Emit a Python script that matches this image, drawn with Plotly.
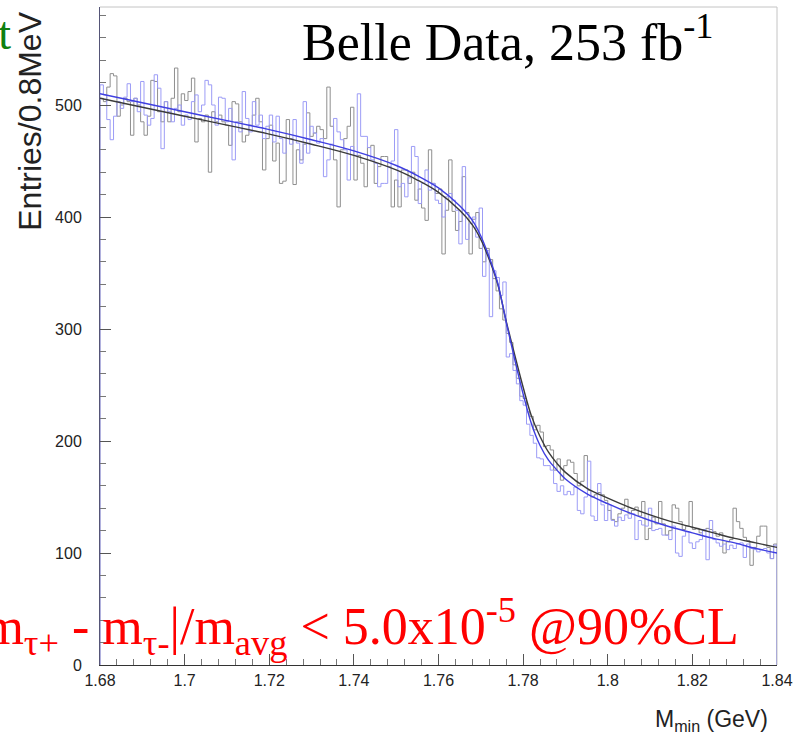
import plotly.graph_objects as go

# ---- data -------------------------------------------------------------
bin_lo = 1.68
bin_w = 0.0008
n_bins = 200

gray_counts = [
    506, 503, 516, 528, 526, 490, 500, 506, 503, 473,
    506, 500, 485, 473, 490, 522, 521, 494, 485, 503,
    485, 506, 533, 494, 510, 504, 512, 524, 467, 488,
    485, 491, 440, 494, 485, 491, 485, 482, 464, 503,
    501, 485, 467, 473, 482, 491, 506, 485, 442, 470,
    482, 450, 466, 430, 432, 487, 470, 429, 460, 451,
    465, 493, 472, 475, 481, 478, 470, 516, 481, 451,
    409, 460, 470, 481, 498, 433, 455, 448, 427, 462,
    464, 430, 445, 454, 454, 445, 409, 433, 409, 442,
    442, 430, 440, 415, 425, 408, 397, 460, 430, 421,
    425, 367, 406, 451, 405, 388, 396, 436, 404, 367,
    398, 404, 372, 360, 372, 362, 345, 334, 318, 308,
    296, 288, 268, 256, 240, 238, 226, 222, 210, 214,
    208, 195, 196, 192, 174, 184, 165, 178, 183, 181,
    171, 160, 164, 187, 156, 150, 152, 154, 152, 147,
    138, 130, 128, 135, 140, 148, 135, 138, 141, 133,
    146, 112, 122, 132, 126, 146, 126, 116, 120, 143,
    140, 128, 121, 124, 146, 121, 122, 118, 120, 122,
    121, 119, 115, 118, 100, 110, 112, 140, 128, 122,
    114, 111, 89, 105, 115, 124, 124, 105, 95, 108,
]

blue_counts = [
    518, 509, 487, 469, 490, 503, 497, 507, 519, 503,
    506, 494, 521, 491, 482, 488, 527, 515, 461, 503,
    494, 485, 497, 500, 482, 491, 487, 503, 509, 494,
    500, 522, 518, 500, 482, 507, 506, 485, 497, 451,
    485, 476, 512, 488, 476, 503, 482, 491, 470, 481,
    491, 467, 490, 470, 457, 470, 465, 487, 466, 448,
    503, 457, 481, 475, 466, 470, 436, 451, 465, 488,
    476, 469, 460, 433, 463, 455, 510, 472, 472, 462,
    451, 448, 427, 430, 430, 445, 450, 478, 427, 430,
    418, 435, 463, 454, 412, 430, 442, 424, 430, 415,
    412, 400, 418, 421, 415, 406, 376, 445, 380, 394,
    400, 382, 408, 347, 370, 311, 352, 346, 330, 342,
    275, 278, 263, 251, 236, 232, 215, 205, 198, 185,
    184, 178, 178, 174, 162, 155, 160, 152, 155, 152,
    159, 138, 135, 150, 182, 133, 129, 162, 143, 129,
    143, 129, 124, 132, 129, 134, 131, 135, 112, 129,
    125, 124, 140, 120, 121, 122, 116, 116, 112, 124,
    100, 97, 115, 119, 109, 104, 110, 112, 121, 94,
    129, 112, 109, 106, 108, 103, 107, 104, 108, 109,
    96, 108, 104, 103, 101, 103, 104, 100, 95, 107,
]

fit_x = [1.680, 1.690, 1.700, 1.710, 1.720, 1.730, 1.740, 1.750, 1.755, 1.760,
         1.765, 1.768, 1.770, 1.772, 1.774, 1.776, 1.778, 1.780, 1.782, 1.784,
         1.786, 1.788, 1.790, 1.795, 1.800, 1.805, 1.810, 1.815, 1.820, 1.825,
         1.830, 1.835, 1.840]
fit_black = [506, 498, 490, 482, 474, 465, 455, 442, 433, 422,
             406, 393, 380, 362, 340, 307, 277, 248, 222, 204,
             190, 180, 172, 158, 149, 141, 134, 128, 123, 118,
             113, 109, 105]
fit_blue = [510, 502, 494, 486, 478, 469, 459, 446, 437, 426,
            410, 397, 383, 364, 341, 306, 273, 242, 215, 196,
            183, 174, 166, 153, 144, 136, 129, 123, 118, 113,
            109, 104, 100]

x_tick_vals = [1.68, 1.70, 1.72, 1.74, 1.76, 1.78, 1.80, 1.82, 1.84]
x_tick_text = ["1.68", "1.7", "1.72", "1.74", "1.76", "1.78", "1.8", "1.82", "1.84"]
y_tick_vals = [0, 100, 200, 300, 400, 500]
y_tick_text = ["0", "100", "200", "300", "400", "500"]


def step_xy(counts):
    edges = [bin_lo + bin_w * i for i in range(n_bins + 1)]
    xs = [bin_lo] + edges + [edges[-1]]
    ys = [0] + list(counts) + [counts[-1], 0]
    return xs, ys


fig = go.Figure()

gx, gy = step_xy(gray_counts)
fig.add_trace(go.Scatter(x=gx, y=gy, mode="lines", line_shape="hv",
                         line=dict(color="#8f8f8f", width=1), hoverinfo="skip"))
bx, by = step_xy(blue_counts)
fig.add_trace(go.Scatter(x=bx, y=by, mode="lines", line_shape="hv",
                         line=dict(color="#9c9cf6", width=1), hoverinfo="skip"))
fig.add_trace(go.Scatter(x=fit_x, y=fit_black, mode="lines", line_shape="spline",
                         line=dict(color="#3a3a3a", width=1.4), hoverinfo="skip"))
fig.add_trace(go.Scatter(x=fit_x, y=fit_blue, mode="lines", line_shape="spline",
                         line=dict(color="#3f3fe0", width=1.4), hoverinfo="skip"))

tick_font = dict(family="Liberation Sans, Arial, sans-serif", size=16, color="#222")

fig.update_layout(
    width=800, height=736,
    margin=dict(l=100, r=23, t=7, b=71),
    paper_bgcolor="white", plot_bgcolor="white",
    showlegend=False,
    xaxis=dict(range=[1.68, 1.84], tickvals=x_tick_vals, ticktext=x_tick_text,
               ticks="inside", ticklen=11, tickcolor="#555", tickwidth=1,
               minor=dict(dtick=0.004, tick0=1.68, ticks="inside", ticklen=6,
                          tickcolor="#777", showgrid=False),
               showgrid=False, zeroline=False, showline=True, linecolor="#333",
               linewidth=1, tickfont=tick_font, ticklabelstandoff=1),
    yaxis=dict(range=[0, 587.5], tickvals=y_tick_vals, ticktext=y_tick_text,
               ticks="inside", ticklen=11, tickcolor="#555", tickwidth=1,
               minor=dict(dtick=20, tick0=0, ticks="inside", ticklen=6,
                          tickcolor="#777", showgrid=False),
               showgrid=False, zeroline=False, showline=True, linecolor="#555577",
               linewidth=1, tickfont=tick_font, ticklabelstandoff=14),
)

# light frame on top / right
fig.add_shape(type="line", xref="paper", yref="paper", x0=0, x1=1, y0=1, y1=1,
              line=dict(color="#c4c4c4", width=1), layer="below")
fig.add_shape(type="line", xref="paper", yref="paper", x0=1, x1=1, y0=0, y1=1,
              line=dict(color="#c4c4c4", width=1), layer="below")

serif = "Liberation Serif, Times New Roman, serif"

fig.add_annotation(xref="paper", yref="paper", x=0.2954, y=0.952,
                   xanchor="left", yanchor="middle", showarrow=False,
                   text="Belle Data, 253 fb<sup>-1</sup>",
                   font=dict(family=serif, size=52, color="black"))

fig.add_annotation(xref="paper", yref="paper", x=0.947, y=0.058,
                   xanchor="right", yanchor="middle", showarrow=False,
                   text="|m<sub>τ+</sub> - m<sub>τ-</sub>|/m<sub>avg</sub> &lt; 5.0x10<sup>-5</sup> @90%CL",
                   font=dict(family=serif, size=52, color="#ff0000"))

fig.add_annotation(xref="paper", yref="paper", x=-0.128, y=0.960,
                   xanchor="right", yanchor="middle", showarrow=False,
                   text="Fit",
                   font=dict(family=serif, size=46, color="#108010"))

fig.add_annotation(xref="paper", yref="paper", x=-0.103, y=0.826,
                   xanchor="center", yanchor="middle", showarrow=False,
                   textangle=-90, text="Entries/0.8MeV",
                   font=dict(family="Liberation Sans, Arial, sans-serif", size=32, color="#222"))

fig.add_annotation(xref="paper", yref="paper", x=0.99, y=0, yshift=-55,
                   xanchor="right", yanchor="middle", showarrow=False,
                   text="M<sub>min</sub> (GeV)",
                   font=dict(family="Liberation Sans, Arial, sans-serif", size=23, color="#222"))

fig.write_html("out.html")
